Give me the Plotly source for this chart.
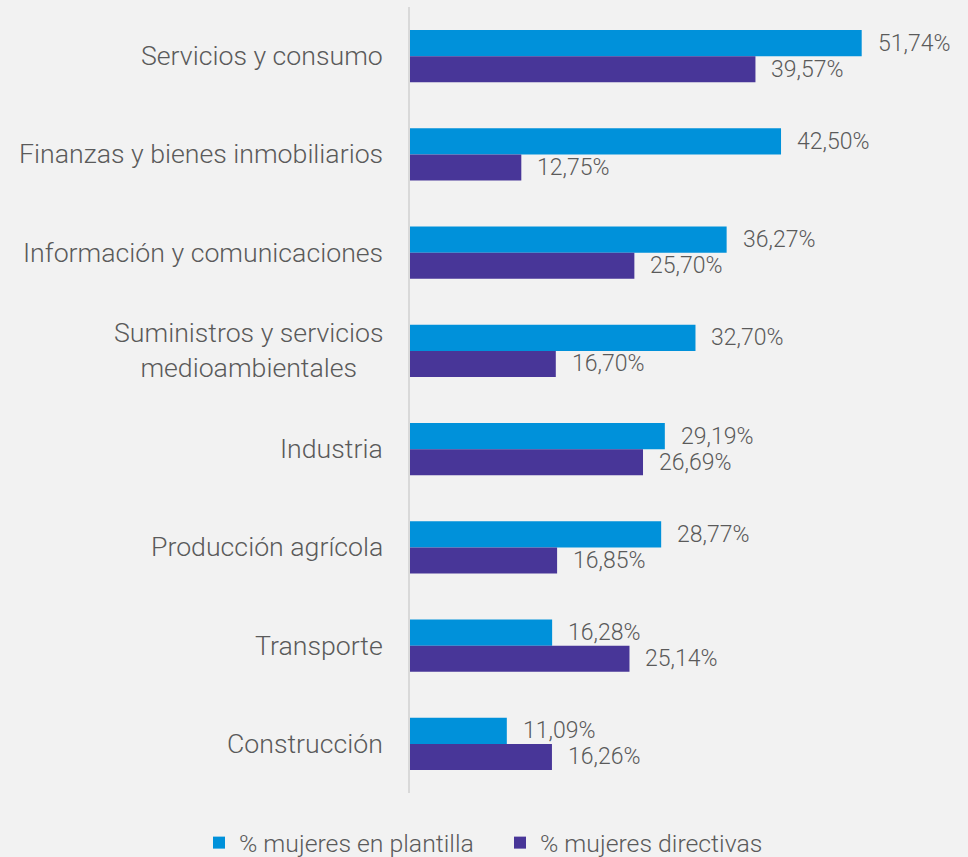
import plotly.graph_objects as go

# Sectores (de arriba abajo) y porcentajes de mujeres
sectores = [
    "Servicios y consumo",
    "Finanzas y bienes inmobiliarios",
    "Información y comunicaciones",
    "Suministros y servicios<br>medioambientales",
    "Industria",
    "Producción agrícola",
    "Transporte",
    "Construcción",
]
plantilla = [51.74, 42.50, 36.27, 32.70, 29.19, 28.77, 16.28, 11.09]
directivas = [39.57, 12.75, 25.70, 16.70, 26.69, 16.85, 25.14, 16.26]

nombres = ["% mujeres en plantilla", "% mujeres directivas"]
colores = ["#0091DA", "#483698"]

BG = "#F2F2F2"
TXT = "#5A5A5A"
FONT = "Roboto, Liberation Sans, Arial, sans-serif"
BAR_PX = 26  # grosor de cada barra en píxeles

W, H = 968, 857
M_L, M_R, M_T, M_B = 410, 8, 7, 64
PLOT_W = W - M_L - M_R
PLOT_H = H - M_T - M_B


def fmt(v):
    return f"{v:.2f}".replace(".", ",") + "%"


fig = go.Figure()
for nombre, valores, color in zip(nombres, [plantilla, directivas], colores):
    fig.add_trace(go.Bar(
        name=nombre,
        y=sectores,
        x=valores,
        orientation="h",
        marker=dict(color=color, line=dict(width=0)),
        hoverinfo="skip",
    ))

# Etiquetas de valor a la derecha de cada barra
for serie, valores in enumerate([plantilla, directivas]):
    desplaz = BAR_PX / 2 if serie == 0 else -BAR_PX / 2
    for cat, v in zip(sectores, valores):
        fig.add_annotation(
            x=v, y=cat, xref="x", yref="y",
            text=fmt(v), showarrow=False,
            xanchor="left", yanchor="middle",
            xshift=14, yshift=desplaz,
            font=dict(size=23, color=TXT, family=FONT, weight=300),
        )

# Nombres de sector a la izquierda del eje (líneas centradas entre sí)
for cat in sectores:
    fig.add_annotation(
        x=0, y=cat, xref="paper", yref="y",
        text=cat, showarrow=False,
        xanchor="right", yanchor="middle", align="center",
        xshift=-25,
        font=dict(size=26.7, color=TXT, family=FONT, weight=300),
    )

fig.update_layout(
    width=W,
    height=H,
    paper_bgcolor=BG,
    plot_bgcolor=BG,
    barmode="group",
    bargap=0.47,
    bargroupgap=0,
    margin=dict(l=M_L, r=M_R, t=M_T, b=M_B, autoexpand=False),
    font=dict(family=FONT, color=TXT),
    showlegend=True,
    legend=dict(
        orientation="h",
        xref="paper", yref="paper",
        x=(199 - M_L) / PLOT_W,
        y=-(843 - (M_T + PLOT_H)) / PLOT_H,
        xanchor="left", yanchor="middle",
        font=dict(size=24.8, color=TXT, family=FONT, weight=300),
        bgcolor="rgba(0,0,0,0)",
        itemwidth=30,
        entrywidth=256,
    ),
)
fig.update_xaxes(
    range=[0, 63],
    showgrid=False, zeroline=False, showticklabels=False,
    showline=False, fixedrange=True,
)
fig.update_yaxes(
    autorange="reversed",
    showgrid=False, zeroline=False, showticklabels=False,
    showline=True, linecolor="#D9D9D9", linewidth=2,
    ticks="",
)

fig.write_html("out.html")
